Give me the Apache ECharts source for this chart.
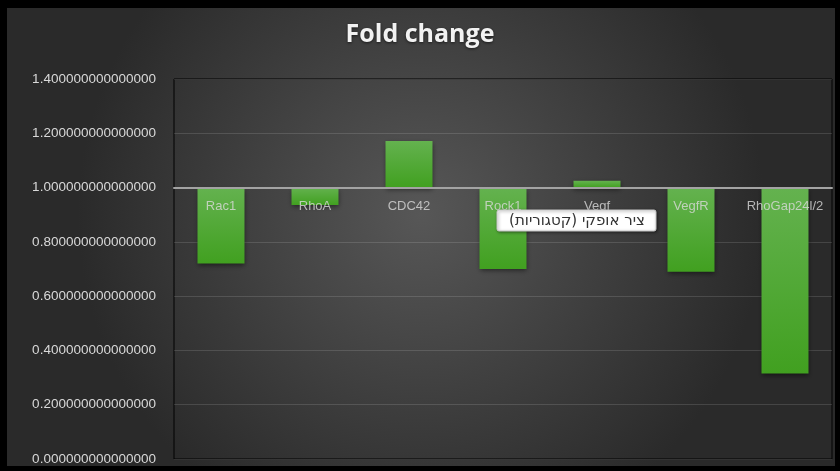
<!DOCTYPE html>
<html>
<head>
<meta charset="utf-8">
<script src="https://cdn.jsdelivr.net/npm/echarts@6/dist/echarts.min.js"></script>
<style>
html,body{margin:0;padding:0;background:#000;}
#chart{width:840px;height:471px;}
</style>
</head>
<body>
<div id="chart"></div>
<script>
const titleText = 'Fold change';
const categories = ['Rac1', 'RhoA', 'CDC42', 'Rock1', 'Vegf', 'VegfR', 'RhoGap24l/2'];
const foldValues = [0.72, 0.936, 1.172, 0.70, 1.025, 0.69, 0.315];
const baseline = 1.0;
const yMin = 0, yMax = 1.4, yStep = 0.2;
const tooltipText = 'ציר אופקי (קטגוריות)';

const chart = echarts.init(document.getElementById('chart'), null, {renderer: 'canvas'});

const option = {
  backgroundColor: '#000',
  animation: false,
  graphic: [
    {
      type: 'rect', z: -10, silent: true,
      shape: {x: 7, y: 8, width: 828, height: 458},
      style: {
        fill: {
          type: 'radial', x: 0.5, y: 0.45, r: 0.75,
          colorStops: [{offset: 0, color: '#575757'}, {offset: 1, color: '#2a2a2a'}]
        }
      }
    },
    {
      type: 'rect', z: 200, silent: true,
      shape: {x: 497, y: 210, width: 159, height: 21, r: 2},
      style: {fill: '#ffffff', stroke: '#c8c8c8', lineWidth: 1,
              shadowColor: 'rgba(0,0,0,0.45)', shadowBlur: 3, shadowOffsetX: 1, shadowOffsetY: 1}
    },
    {
      type: 'text', z: 201, silent: true,
      style: {x: 577, y: 221, text: '\u202B' + tooltipText + '\u202C', fill: '#333333',
              align: 'center', verticalAlign: 'middle',
              font: '15px "DejaVu Sans", "Noto Sans", sans-serif'}
    }
  ],
  title: {
    text: titleText,
    left: 'center',
    top: 17,
    textStyle: {
      color: '#f2f2f2', fontSize: 25, fontWeight: 'bold',
      fontFamily: '"Open Sans", "Liberation Sans", sans-serif',
      textShadowColor: 'rgba(0,0,0,0.6)', textShadowBlur: 3, textShadowOffsetY: 1
    }
  },
  grid: {
    left: 174, right: 8, top: 79, bottom: 12,
    containLabel: false, outerBoundsMode: 'none',
    show: true, borderColor: '#000', borderWidth: 1, backgroundColor: 'transparent'
  },
  xAxis: {
    type: 'category',
    data: categories,
    z: 10,
    axisLine: {onZero: true, lineStyle: {color: '#a3a3a3', width: 2}},
    axisTick: {show: false},
    axisLabel: {show: false},
    splitLine: {show: false}
  },
  yAxis: {
    type: 'value',
    min: yMin - baseline, max: yMax - baseline, interval: yStep,
    axisLine: {show: false},
    axisTick: {show: false},
    axisLabel: {
      color: '#d9d9d9', fontSize: 13.5, margin: 18,
      fontFamily: '"Liberation Sans", Arial, sans-serif',
      formatter: v => (v + baseline).toFixed(15)
    },
    splitLine: {lineStyle: {color: 'rgba(255,255,255,0.13)', width: 1}}
  },
  series: [{
    type: 'bar',
    barWidth: '50%',
    data: foldValues.map(v => +(v - baseline).toFixed(6)),
    itemStyle: {
      color: {
        type: 'linear', x: 0, y: 0, x2: 0, y2: 1,
        colorStops: [{offset: 0, color: '#64b24f'}, {offset: 1, color: '#41a020'}]
      },
      shadowColor: 'rgba(0,0,0,0.5)', shadowBlur: 5, shadowOffsetY: 2
    }
  }, {
    type: 'scatter',
    z: 20,
    silent: true,
    symbolSize: 1,
    itemStyle: {color: 'rgba(0,0,0,0)'},
    data: categories.map(() => 0),
    label: {
      show: true, position: 'bottom', distance: 12,
      formatter: p => categories[p.dataIndex],
      color: '#d9d9d9', fontSize: 13,
      fontFamily: '"Liberation Sans", Arial, sans-serif'
    }
  }]
};
chart.setOption(option);
</script>
</body>
</html>
